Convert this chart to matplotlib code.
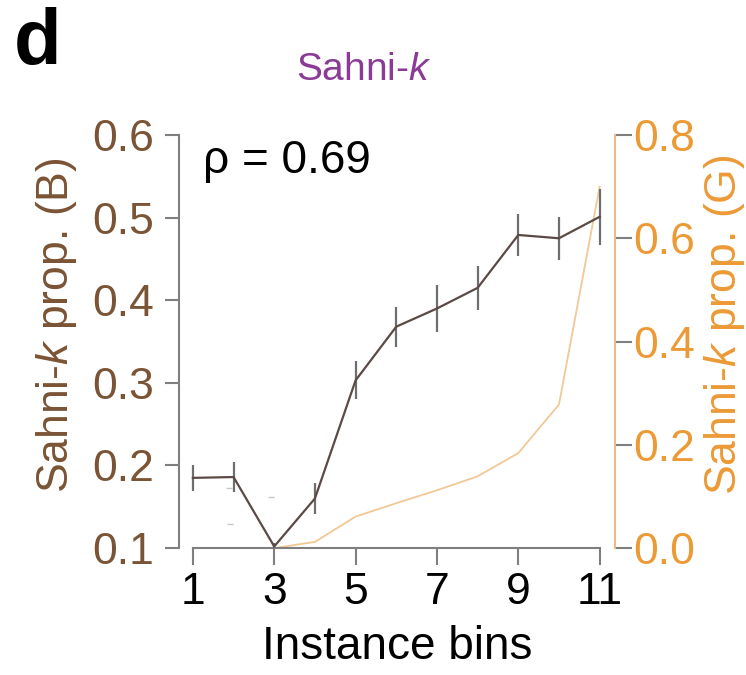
import matplotlib
matplotlib.use('Agg')
import matplotlib.pyplot as plt
import numpy as np

plt.rcParams['font.family'] = ['Liberation Sans', 'DejaVu Sans']
plt.rcParams['mathtext.fontset'] = 'custom'
plt.rcParams['mathtext.rm'] = 'Liberation Sans'
plt.rcParams['mathtext.it'] = 'Liberation Sans:italic'

# data
bins = [1, 2, 3, 4, 5, 6, 7, 8, 9, 10, 11]
prop_b = [0.185, 0.186, 0.102, 0.160, 0.303, 0.368, 0.390, 0.415, 0.479, 0.475, 0.501]
err_b = [0.016, 0.018, 0.004, 0.019, 0.023, 0.024, 0.028, 0.027, 0.025, 0.026, 0.034]
prop_g = [0.0, 0.0, 0.0, 0.012, 0.061, 0.087, 0.112, 0.139, 0.184, 0.278, 0.70]
stray_x = [1.9, 2.93, 1.91]
stray_y = [0.173, 0.162, 0.129]
xticks = [1, 3, 5, 7, 9, 11]
rho_text = 'ρ = 0.69'

brown = '#7a5434'
orange = '#ec9a36'
purple = '#8b3a96'
line_brown = '#5a4a46'
tick_grey = '#7f7f7f'

fig = plt.figure(figsize=(7.46, 6.75), dpi=100)
ax = fig.add_axes([0.24, 0.188, 0.584, 0.612])
ax2 = ax.twinx()

ax2.plot(bins, prop_g, color='#f2c896', lw=1.3, zorder=1)
ax.errorbar(bins, prop_b, yerr=err_b, color=line_brown, lw=1.6,
            ecolor='#6e6e6e', elinewidth=1.6, capsize=0, zorder=3)
ax.plot(stray_x, stray_y, ls='none', marker='_', ms=5, color='#c8c8c8')

ax.set_zorder(ax2.get_zorder() + 1)
ax.patch.set_visible(False)

ax.set_xlim(0.66, 11.37)
ax.set_ylim(0.1, 0.6)
ax2.set_ylim(0.0, 0.8)

for a in (ax, ax2):
    a.spines['top'].set_visible(False)
ax.spines['right'].set_visible(False)
ax2.spines['left'].set_visible(False)
ax2.spines['bottom'].set_visible(False)
ax.spines['bottom'].set_bounds(1, 11)
ax.spines['bottom'].set_color(tick_grey)
ax.spines['left'].set_color(tick_grey)
ax2.spines['right'].set_color('#eab98e')
for s in ('bottom', 'left'):
    ax.spines[s].set_linewidth(1.5)
ax2.spines['right'].set_linewidth(1.5)

ax.set_xticks(xticks)
ax.set_yticks([0.1, 0.2, 0.3, 0.4, 0.5, 0.6])
ax.set_yticklabels(['0.1', '0.2', '0.3', '0.4', '0.5', '0.6'])
ax2.set_yticks([0.0, 0.2, 0.4, 0.6, 0.8])
ax2.set_yticklabels(['0.0', '0.2', '0.4', '0.6', '0.8'])

ax.tick_params(axis='x', length=12, width=1.5, color=tick_grey, labelsize=32, pad=5, labelcolor='black')
ax.tick_params(axis='y', length=10, width=1.5, color=tick_grey, labelsize=32, pad=8, labelcolor=brown)
ax2.tick_params(axis='y', length=12, width=1.5, color=tick_grey, labelsize=32, pad=1, labelcolor=orange)

ax.set_xlabel('Instance bins', fontsize=33, labelpad=9)
ax.set_ylabel(r'Sahni-$\it{k}$ prop. (B)', fontsize=32, color=brown)
ax.yaxis.set_label_coords(-0.23, 0.54)
ax2.set_ylabel(r'Sahni-$\it{k}$ prop. (G)', fontsize=32, color=orange)
ax2.yaxis.set_label_coords(1.2, 0.54)

ax.text(0.055, 0.99, rho_text, transform=ax.transAxes, fontsize=33, va='top', ha='left')
fig.text(0.488, 0.896, r'Sahni-$\it{k}$', fontsize=28, color=purple, ha='center', va='center')
fig.text(0.018, 0.99, 'd', fontsize=56, fontweight='bold', ha='left', va='top')

fig.savefig('out.png', dpi=100)
